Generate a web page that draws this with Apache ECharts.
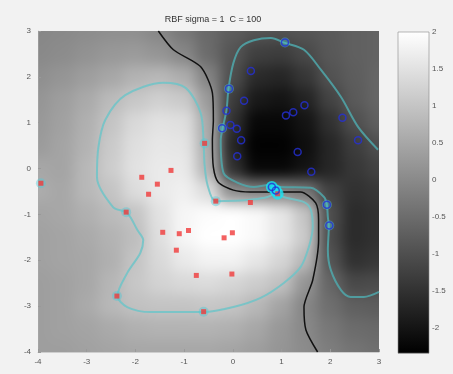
<!DOCTYPE html>
<html>
<head>
<meta charset="utf-8">
<script src="https://cdn.jsdelivr.net/npm/echarts@6/dist/echarts.min.js"></script>
<style>
  html, body { margin: 0; padding: 0; background: #f2f2f2; }
  #main { width: 453px; height: 374px; }
  #heat { position: absolute; left: -2000px; top: 0; width: 365px; height: 344px; }
</style>
</head>
<body>
<div id="main"></div>
<div id="heat"></div>
<script>
// decision value grid (rows top y=3 -> bottom y=-4)
const gridX = [-4, -3.5, -3, -2.5, -2, -1.5, -1, -0.5, 0, 0.5, 1, 1.5, 2, 2.5, 3];
const gridY = [3, 2.5, 2, 1.5, 1, 0.5, 0, -0.5, -1, -1.5, -2, -2.5, -3, -3.5, -4];
const fieldRows = [
  [-0.05, 0.0, 0.05, 0.1, 0.1, -0.05, -0.3, -0.55, -0.75, -0.9, -0.95, -0.9, -0.8, -0.7, -0.65],
  [0.0, 0.05, 0.15, 0.25, 0.3, 0.2, -0.05, -0.5, -0.9, -1.25, -1.3, -1.1, -0.85, -0.7, -0.65],
  [0.1, 0.2, 0.35, 0.5, 0.7, 0.8, 0.6, -0.1, -1.0, -1.6, -1.7, -1.4, -0.95, -0.75, -0.6],
  [0.2, 0.35, 0.55, 0.85, 1.05, 1.2, 1.1, 0.3, -1.3, -1.9, -2.0, -1.75, -1.2, -0.8, -0.6],
  [0.25, 0.4, 0.65, 1.0, 1.35, 1.5, 1.45, 0.55, -1.5, -2.2, -2.2, -2.0, -1.5, -1.0, -0.7],
  [0.3, 0.45, 0.7, 1.1, 1.45, 1.6, 1.55, 0.6, -1.7, -2.3, -2.3, -2.1, -1.7, -1.3, -1.0],
  [0.5, 0.45, 0.8, 1.15, 1.5, 1.65, 1.65, 0.7, -1.5, -2.2, -2.2, -2.0, -1.7, -1.4, -1.2],
  [0.6, 0.5, 0.8, 1.0, 1.4, 1.65, 1.75, 1.4, 0.1, -0.1, -0.1, -0.3, -1.2, -1.5, -1.4],
  [0.45, 0.5, 0.65, 0.85, 1.0, 1.5, 1.85, 1.95, 2.0, 1.9, 1.6, 1.0, -1.0, -1.6, -1.5],
  [0.4, 0.45, 0.55, 0.7, 0.9, 1.45, 1.85, 2.0, 2.0, 1.9, 1.6, 1.1, -1.05, -1.6, -1.5],
  [0.4, 0.45, 0.5, 0.65, 1.0, 1.35, 1.65, 1.8, 1.8, 1.6, 1.3, 0.8, -0.9, -1.5, -1.4],
  [0.35, 0.4, 0.5, 0.75, 1.05, 1.25, 1.35, 1.4, 1.3, 1.15, 0.95, 0.2, -0.6, -1.1, -1.05],
  [0.35, 0.4, 0.55, 0.8, 0.95, 1.0, 1.0, 1.05, 1.0, 0.8, 0.45, -0.05, -0.45, -0.7, -0.75],
  [0.35, 0.4, 0.45, 0.55, 0.65, 0.7, 0.7, 0.7, 0.65, 0.5, 0.25, 0.0, -0.3, -0.5, -0.55],
  [0.35, 0.35, 0.4, 0.45, 0.5, 0.5, 0.5, 0.5, 0.45, 0.35, 0.2, 0.05, -0.2, -0.35, -0.45]
];

const redPts = [
  [-3.94, -0.32], [-1.27, -0.04], [-1.87, -0.19], [-1.55, -0.34], [-1.73, -0.56],
  [-2.19, -0.95], [-0.58, 0.55], [-0.35, -0.71], [0.36, -0.74], [-1.44, -1.39],
  [-1.10, -1.42], [-0.91, -1.35], [-0.18, -1.51], [-0.01, -1.40], [-1.16, -1.78],
  [-0.75, -2.33], [-0.02, -2.30], [-2.38, -2.78], [-0.60, -3.12], [0.92, -0.55]
];
const bluePts = [
  [1.07, 2.75], [0.37, 2.13], [-0.08, 1.74], [0.23, 1.48], [-0.13, 1.26],
  [1.47, 1.38], [1.24, 1.23], [1.09, 1.16], [2.25, 1.11], [-0.22, 0.88],
  [-0.05, 0.95], [0.08, 0.87], [0.17, 0.62], [2.57, 0.62], [1.33, 0.36],
  [0.09, 0.27], [1.61, -0.07], [0.80, -0.40], [0.88, -0.48], [1.93, -0.79], [1.98, -1.24]
];
const svPts = [
  [1.07, 2.75], [-0.08, 1.74], [-0.22, 0.88], [1.93, -0.79], [1.98, -1.24],
  [-3.94, -0.32], [-2.19, -0.95], [-0.58, 0.55], [-0.35, -0.71], [-2.38, -2.78], [-0.60, -3.12]
];
const svCluster = [[0.80, -0.40], [0.88, -0.48], [0.92, -0.55]];

// contours
const zeroLine = [
  [-1.53, 3.0], [-1.22, 2.59], [-0.66, 2.22], [-0.42, 1.65], [-0.40, 1.06], [-0.42, 0.62],
  [-0.40, 0.03], [-0.30, -0.30], [0.01, -0.47], [0.36, -0.51], [1.39, -0.51], [1.70, -0.75],
  [1.76, -1.12], [1.76, -1.56], [1.64, -2.43], [1.46, -3.02], [1.50, -3.52], [1.74, -4.0]
];
const posMargin = [
  [0.90, -0.51], [1.04, -0.62], [1.46, -0.73], [1.60, -0.90], [1.64, -1.27], [1.56, -1.71],
  [1.39, -2.15], [1.04, -2.50], [0.57, -2.82], [0.01, -3.02], [-0.60, -3.13], [-1.08, -3.13],
  [-1.69, -3.13], [-2.17, -3.02], [-2.37, -2.78], [-2.17, -2.28], [-1.90, -1.84], [-1.84, -1.56],
  [-1.96, -1.34], [-2.17, -0.97], [-2.46, -0.84], [-2.79, -0.18], [-2.76, 0.47], [-2.62, 1.06],
  [-2.21, 1.60], [-1.43, 1.87], [-0.97, 1.76], [-0.66, 1.21], [-0.60, 0.56], [-0.58, 0.08],
  [-0.52, -0.36], [-0.36, -0.71], [0.06, -0.70], [0.36, -0.68], [0.71, -0.62], [0.90, -0.51]
];
const negMargin = [
  [3.0, -2.69], [2.69, -2.80], [2.42, -2.80], [2.22, -2.65], [2.01, -2.21], [1.95, -1.78],
  [1.97, -1.25], [1.95, -1.06], [1.93, -0.79], [1.87, -0.62], [1.60, -0.42], [0.98, -0.40],
  [0.74, -0.36], [0.43, -0.40], [0.10, -0.31], [-0.19, -0.10], [-0.25, 0.62], [-0.21, 0.88],
  [-0.13, 1.28], [-0.09, 1.74], [0.01, 2.30], [0.16, 2.65], [0.43, 2.80], [0.78, 2.85],
  [1.07, 2.74], [1.46, 2.59], [1.81, 2.15], [2.22, 1.56], [2.57, 0.91], [2.98, 0.41]
];
const cbMin = -2.34, cbMax = 2;

const font = 'Liberation Sans, Arial, sans-serif';

// heatmap drawn off-screen, then softened and placed under the plot
const heatData = [];
fieldRows.forEach((row, j) => row.forEach((v, i) => heatData.push([i, j, v])));
const heat = echarts.init(document.getElementById('heat'));
heat.setOption({
  animation: false,
  grid: { left: 0, right: 0, top: 0, bottom: 0 },
  xAxis: { type: 'category', data: gridX, show: false },
  yAxis: { type: 'category', data: gridY, inverse: true, show: false },
  visualMap: { show: false, min: cbMin, max: cbMax, inRange: { color: ['#000000', '#ffffff'] } },
  series: [{ type: 'heatmap', data: heatData }]
});

const main = echarts.init(document.getElementById('main'));
const axisTxt = { color: '#555', fontSize: 8, fontFamily: font };
main.setOption({
  animation: false,
  backgroundColor: '#f2f2f2',
  title: {
    text: 'RBF sigma = 1  C = 100', left: 208, top: 10, textAlign: 'center',
    textStyle: { fontSize: 9, fontWeight: 'normal', color: '#333', fontFamily: font }
  },
  grid: [
    { left: 38, right: 74, top: 31, bottom: 22 },
    { left: 398, width: 31, top: 32, bottom: 9 }
  ],
  xAxis: [
    {
      type: 'value', min: -4, max: 3, interval: 1,
      axisLine: { onZero: false, lineStyle: { color: '#aaa', width: 0.5 } },
      axisTick: { inside: true, length: 3, lineStyle: { color: '#999' } },
      splitLine: { show: false }, axisLabel: Object.assign({ margin: 6 }, axisTxt)
    },
    { gridIndex: 1, type: 'value', min: 0, max: 1, show: false }
  ],
  yAxis: [
    {
      type: 'value', min: -4, max: 3, interval: 1,
      axisLine: { show: true, onZero: false, lineStyle: { color: '#aaa', width: 0.5 } },
      axisTick: { show: true, inside: true, length: 3, lineStyle: { color: '#999' } },
      splitLine: { show: false }, axisLabel: Object.assign({ margin: 7 }, axisTxt)
    },
    {
      gridIndex: 1, type: 'value', min: -2.5, max: 2, interval: 0.5, position: 'right',
      axisLine: { show: false }, axisTick: { show: false }, splitLine: { show: false },
      axisLabel: Object.assign({ margin: 3, showMinLabel: false }, axisTxt)
    }
  ],
  series: [
    {
      type: 'line', data: posMargin, smooth: 0.3, symbol: 'none',
      lineStyle: { color: '#6fc4c8', width: 2, opacity: 0.85 }, z: 2
    },
    {
      type: 'line', data: negMargin, smooth: 0.3, symbol: 'none',
      lineStyle: { color: '#4fa8ac', width: 2, opacity: 0.85 }, z: 2
    },
    {
      type: 'line', data: zeroLine, smooth: 0.25, symbol: 'none',
      lineStyle: { color: '#111', width: 1.5 }, z: 3
    },
    {
      type: 'scatter', data: svPts, symbol: 'circle', symbolSize: 10,
      itemStyle: { color: 'rgba(80,200,215,0.55)' }, z: 4
    },
    {
      type: 'scatter', data: svCluster, symbol: 'circle', symbolSize: 12,
      itemStyle: { color: '#18e4f2' }, z: 4
    },
    {
      type: 'scatter', data: redPts, symbol: 'rect', symbolSize: 5,
      itemStyle: { color: '#f03a3a' }, z: 5
    },
    {
      type: 'scatter', data: bluePts, symbol: 'circle', symbolSize: 7,
      itemStyle: { color: 'rgba(0,0,0,0)', borderColor: '#2430d8', borderWidth: 1.5 }, z: 5
    },
    {
      type: 'line', xAxisIndex: 1, yAxisIndex: 1, data: [], symbol: 'none',
      markArea: {
        silent: true,
        itemStyle: {
          borderColor: '#888', borderWidth: 0.6,
          color: {
            type: 'linear', x: 0, y: 0, x2: 0, y2: 1,
            colorStops: [{ offset: 0, color: '#ffffff' }, { offset: 1, color: '#000000' }]
          }
        },
        data: [[{ coord: [0, cbMax] }, { coord: [1, cbMin] }]]
      }
    }
  ]
});

// box blur (3 passes, clamped edges) to soften the cell steps like the shaded original
function boxBlur(img, w, h, r, passes) {
  const d = img.data;
  const a = new Float32Array(w * h), b = new Float32Array(w * h);
  for (let i = 0; i < w * h; i++) a[i] = d[i * 4];
  const n = 2 * r + 1;
  for (let p = 0; p < passes; p++) {
    for (let y = 0; y < h; y++) {
      for (let x = 0; x < w; x++) {
        let s = 0;
        for (let k = -r; k <= r; k++) s += a[y * w + Math.min(w - 1, Math.max(0, x + k))];
        b[y * w + x] = s / n;
      }
    }
    for (let y = 0; y < h; y++) {
      for (let x = 0; x < w; x++) {
        let s = 0;
        for (let k = -r; k <= r; k++) s += b[Math.min(h - 1, Math.max(0, y + k)) * w + x];
        a[y * w + x] = s / n;
      }
    }
  }
  for (let i = 0; i < w * h; i++) {
    d[i * 4] = d[i * 4 + 1] = d[i * 4 + 2] = a[i];
    d[i * 4 + 3] = 255;
  }
  return img;
}

const src = heat.getDom().querySelector('canvas');
const soft = document.createElement('canvas');
soft.width = src.width; soft.height = src.height;
const sctx = soft.getContext('2d');
sctx.drawImage(src, 0, 0);
sctx.putImageData(boxBlur(sctx.getImageData(0, 0, soft.width, soft.height), soft.width, soft.height, 6, 3), 0, 0);

const pad = main.convertToPixel({ gridIndex: 0 }, [-4.25, 3.25]);
const p0 = main.convertToPixel({ gridIndex: 0 }, [-4, 3]);
const p1 = main.convertToPixel({ gridIndex: 0 }, [3, -4]);
const crop = document.createElement('canvas');
crop.width = Math.round(p1[0] - p0[0]); crop.height = Math.round(p1[1] - p0[1]);
crop.getContext('2d').drawImage(soft, pad[0] - p0[0], pad[1] - p0[1]);
main.setOption({
  graphic: [{
    type: 'image', z: 0, silent: true, x: p0[0], y: p0[1],
    style: { image: crop, width: crop.width, height: crop.height }
  }]
});
</script>
</body>
</html>
